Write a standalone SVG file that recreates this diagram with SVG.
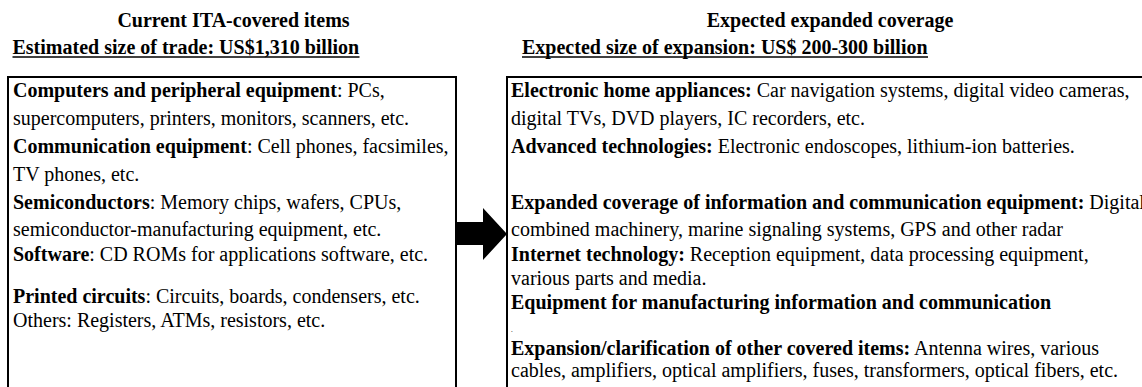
<svg xmlns="http://www.w3.org/2000/svg" width="1142" height="387" viewBox="0 0 1142 387">
<style>
.t{font-family:"Liberation Serif","Times New Roman",serif;font-size:20px;fill:#000}
.b{font-weight:bold}
.h{font-family:"Liberation Serif","Times New Roman",serif;font-size:20px;font-weight:bold;fill:#000}
.box{fill:#fff;stroke:#000;stroke-width:2}
.ul{stroke:#000;stroke-width:1.5}
</style>
<rect width="1142" height="387" fill="#fff"/>
<g id="header-current">
<text class="h" x="233.5" y="27" text-anchor="middle">Current ITA-covered items</text>
<text class="h" x="12.5" y="54">Estimated size of trade: US$1,310 billion</text>
<line class="ul" x1="12.5" y1="57" x2="359.5" y2="57"/>
</g>
<g id="header-expanded">
<text class="h" x="830" y="27" text-anchor="middle">Expected expanded coverage</text>
<text class="h" x="522" y="54">Expected size of expansion: US$ 200-300 billion</text>
<line class="ul" x1="522" y1="57" x2="928" y2="57"/>
</g>
<g id="node-current">
<rect class="box" x="8" y="77" width="448" height="330"/>
<text class="t" x="13" y="97"><tspan class="b">Computers and peripheral equipment</tspan>: PCs,</text>
<text class="t" x="13" y="125">supercomputers, printers, monitors, scanners, etc.</text>
<text class="t" x="13" y="153"><tspan class="b">Communication equipment</tspan>: Cell phones, facsimiles,</text>
<text class="t" x="13" y="181">TV phones, etc.</text>
<text class="t" x="13" y="209"><tspan class="b">Semiconductors</tspan>: Memory chips, wafers, CPUs,</text>
<text class="t" x="13" y="236">semiconductor-manufacturing equipment, etc.</text>
<text class="t" x="13" y="261"><tspan class="b">Software</tspan>: CD ROMs for applications software, etc.</text>
<text class="t" x="13" y="303"><tspan class="b">Printed circuits</tspan>: Circuits, boards, condensers, etc.</text>
<text class="t" x="13" y="327">Others: Registers, ATMs, resistors, etc.</text>
</g>
<g id="node-expanded">
<rect class="box" x="507" y="77" width="650" height="330"/>
<text class="t" x="511" y="97"><tspan class="b">Electronic home appliances:</tspan> Car navigation systems, digital video cameras,</text>
<text class="t" x="511" y="125">digital TVs, DVD players, IC recorders, etc.</text>
<text class="t" x="511" y="153"><tspan class="b">Advanced technologies:</tspan> Electronic endoscopes, lithium-ion batteries.</text>
<text class="t" x="511" y="209"><tspan class="b">Expanded coverage of information and communication equipment:</tspan> Digital</text>
<text class="t" x="511" y="236">combined machinery, marine signaling systems, GPS and other radar</text>
<text class="t" x="511" y="261"><tspan class="b">Internet technology:</tspan> Reception equipment, data processing equipment,</text>
<text class="t" x="511" y="285">various parts and media.</text>
<text class="t" x="511" y="309"><tspan class="b">Equipment for manufacturing information and communication</tspan></text>
<text class="t" x="511" y="332" style="font-size:7px">.</text>
<text class="t" x="511" y="355"><tspan class="b">Expansion/clarification of other covered items:</tspan> Antenna wires, various</text>
<text class="t" x="511" y="377">cables, amplifiers, optical amplifiers, fuses, transformers, optical fibers, etc.</text>
</g>
<g id="connectors">
<polygon points="456,222 483,222 483,208 507,234 483,260 483,245 456,245" fill="#000"/>
</g>
</svg>
